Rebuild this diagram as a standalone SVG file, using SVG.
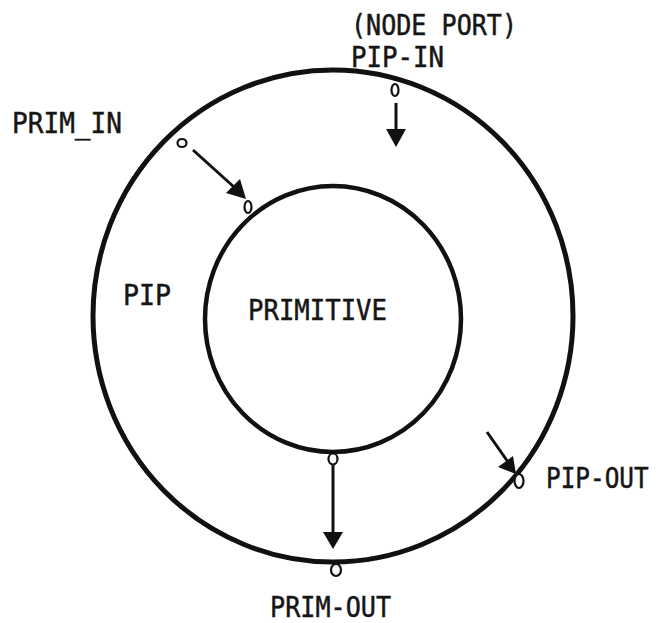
<svg xmlns="http://www.w3.org/2000/svg" width="661" height="623" viewBox="0 0 661 623">
  <style>
    .ring { fill: none; stroke: #111; }
    .port { fill: #fff; stroke: #111; stroke-width: 2.2; }
    .lbl { font-family: "DejaVu Sans Mono", "Liberation Mono", monospace; font-size: 28px; fill: #161616; stroke: #161616; stroke-width: 0.5; }
    .wire { stroke: #111; stroke-width: 3; fill: none; }
    .head { fill: #111; stroke: none; }
  </style>
  <rect width="661" height="623" fill="#fff"/>

  <!-- PIP: outer ring -->
  <g id="pip">
    <ellipse class="ring" cx="333" cy="316" rx="240" ry="246" stroke-width="5"/>
    <text class="lbl" x="123" y="305" textLength="48" lengthAdjust="spacingAndGlyphs">PIP</text>
  </g>

  <!-- PRIMITIVE: inner circle -->
  <g id="primitive">
    <ellipse class="ring" cx="333" cy="319" rx="128" ry="133" stroke-width="4.5"/>
    <text class="lbl" x="248" y="320" textLength="139" lengthAdjust="spacingAndGlyphs">PRIMITIVE</text>
  </g>

  <!-- ports on the rings -->
  <g id="pip-in">
    <ellipse class="port" cx="395" cy="90" rx="3.5" ry="6"/>
    <text class="lbl" x="351" y="35" textLength="166" lengthAdjust="spacingAndGlyphs">(NODE PORT)</text>
    <text class="lbl" x="351" y="67" textLength="93" lengthAdjust="spacingAndGlyphs">PIP-IN</text>
  </g>
  <g id="prim-in">
    <ellipse class="port" cx="182" cy="143" rx="4.5" ry="4"/>
    <ellipse class="port" cx="248" cy="207" rx="3.5" ry="6"/>
    <text class="lbl" x="12" y="133" textLength="110" lengthAdjust="spacingAndGlyphs">PRIM_IN</text>
  </g>
  <g id="prim-out">
    <ellipse class="port" cx="333" cy="459" rx="4.5" ry="5.5"/>
    <ellipse class="port" cx="336" cy="570" rx="5" ry="6"/>
    <text class="lbl" x="270" y="617" textLength="121" lengthAdjust="spacingAndGlyphs">PRIM-OUT</text>
  </g>
  <g id="pip-out">
    <ellipse class="port" cx="519" cy="481" rx="4.5" ry="7"/>
    <!-- narrowed with a horizontal scale so the label fits the right margin -->
    <text class="lbl" transform="translate(546,488) scale(0.87,1)" x="0" y="0">PIP-OUT</text>
  </g>

  <!-- connectors -->
  <g id="connectors">
    <line class="wire" x1="396" y1="103" x2="396" y2="132"/>
    <polygon class="head" points="386,129 406,129 396,147"/>

    <line class="wire" x1="193" y1="150" x2="234" y2="187"/>
    <polygon class="head" points="226,193 240,179 246,199"/>

    <line class="wire" x1="333" y1="465" x2="333" y2="535"/>
    <polygon class="head" points="323,532 343,532 333,549"/>

    <line class="wire" x1="487" y1="432" x2="508" y2="462"/>
    <polygon class="head" points="498,467 513,456 516,474"/>
  </g>
</svg>
